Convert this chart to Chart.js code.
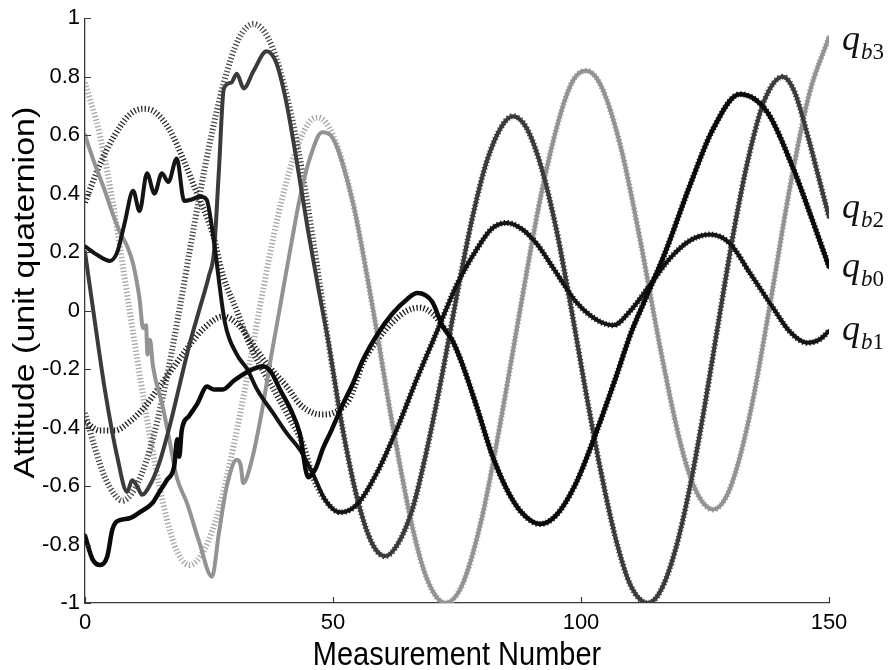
<!DOCTYPE html>
<html>
<head>
<meta charset="utf-8">
<script src="https://cdn.jsdelivr.net/npm/chart.js@4.4.1/dist/chart.umd.min.js"></script>
<style>
  html, body { margin: 0; padding: 0; background: #fff; }
  #wrap { width: 890px; height: 670px; }
</style>
</head>
<body>
<div id="wrap"><canvas id="attitude" width="890" height="670"></canvas></div>
<script>
// reference attitude (dotted) and filter estimate (solid), [measurement, value]
const qb0True = [[0,-0.38],[3,-0.41],[6,-0.41],[9,-0.38],[12,-0.33],[15,-0.26],[18,-0.19],[21,-0.12],[24,-0.06],[27.8,-0.02],[31,-0.05],[34,-0.12],[37,-0.19],[40.7,-0.26],[43.3,-0.32],[46,-0.35],[48,-0.355],[50,-0.35],[53.4,-0.3],[56,-0.18],[59,-0.1],[62,-0.04],[65,0.0],[67.5,0.01],[70,-0.01],[72,-0.05],[74,-0.1],[76,-0.18],[79,-0.33],[82,-0.49],[85,-0.61],[88,-0.69],[91.7,-0.73],[95,-0.7],[99,-0.59],[103,-0.42],[107,-0.23],[110,-0.08],[113,0.04],[117,0.2],[122,0.43],[126.6,0.62],[132,0.74],[137.5,0.68],[142.7,0.49],[146,0.34],[150,0.15]];
const qb0Est = [[0,-0.77],[1.5,-0.85],[3,-0.87],[4.5,-0.84],[5.5,-0.75],[6.5,-0.72],[9,-0.71],[11,-0.69],[13.5,-0.66],[15,-0.62],[16.5,-0.58],[18,-0.53],[18.6,-0.44],[19,-0.5],[19.5,-0.41],[21,-0.36],[22.6,-0.32],[24.6,-0.26],[26,-0.27],[27.8,-0.27],[30,-0.24],[32.7,-0.21],[35.9,-0.19],[37.5,-0.21],[39.3,-0.27],[41.5,-0.34],[43.3,-0.42],[45,-0.57],[46.5,-0.54],[48,-0.47],[49.4,-0.42],[52,-0.32],[54,-0.25],[56,-0.17],[59,-0.08],[62,-0.01],[65,0.04],[67,0.06],[70,0.03]];

const qb1True = [[0,0.37],[3,0.5],[6,0.6],[9,0.67],[11.7,0.69],[14,0.68],[17,0.62],[20,0.51],[22.6,0.4],[25.8,0.26],[27.8,0.12],[30.6,0.0],[33.3,-0.12],[36,-0.21],[38.7,-0.29],[41.3,-0.37],[44,-0.46],[46,-0.57],[48.5,-0.65],[51.5,-0.69],[55,-0.66],[59,-0.55],[63,-0.4],[67,-0.23],[71,-0.07],[75,0.09],[79,0.21],[82,0.28],[85,0.3],[88,0.28],[91,0.23],[95,0.13],[99,0.03],[103,-0.03],[106.5,-0.05],[110,0.0],[114,0.09],[118,0.18],[122,0.24],[126,0.26],[130,0.23],[134,0.13],[138.7,0.01],[142,-0.07],[145.6,-0.11],[148,-0.1],[150,-0.07]];
const qb1Est = [[0,0.22],[2.5,0.19],[5,0.17],[6.5,0.2],[8,0.3],[9.7,0.41],[11,0.34],[12.5,0.47],[14,0.4],[15.5,0.47],[16.8,0.44],[18.5,0.52],[20,0.375],[21.5,0.38],[23.2,0.39],[24.5,0.38],[25.8,0.26],[28.2,-0.04],[30.6,-0.15],[32.7,-0.2],[34.7,-0.27],[37.9,-0.35],[40.7,-0.42],[43.5,-0.48],[46,-0.56],[48.5,-0.65]];

const qb2True = [[0,-0.35],[2,-0.47],[4,-0.57],[6,-0.63],[7.5,-0.65],[10,-0.61],[13,-0.48],[16,-0.27],[19,0.0],[22,0.29],[25,0.56],[28,0.78],[31,0.93],[34,0.98],[37,0.93],[40,0.78],[43,0.55],[46,0.24],[49,-0.1],[52,-0.41],[55,-0.65],[58,-0.8],[60.5,-0.84],[63,-0.8],[66,-0.68],[69,-0.47],[72,-0.22],[75,0.055],[78,0.31],[81,0.51],[84,0.63],[86.3,0.665],[89,0.625],[92,0.49],[95,0.28],[98,0.01],[101,-0.28],[104,-0.55],[107,-0.78],[110,-0.94],[113.5,-1.0],[116,-0.96],[119,-0.82],[122,-0.6],[125,-0.32],[128,-0.01],[131,0.29],[134,0.54],[137,0.72],[140.7,0.8],[143,0.75],[146,0.58],[148,0.45],[150,0.32]];
const qb2Est = [[0,0.2],[2,-0.04],[4,-0.27],[6.5,-0.5],[8.5,-0.62],[9.5,-0.58],[10.5,-0.6],[11.5,-0.63],[13,-0.6],[15,-0.52],[17,-0.4],[19,-0.26],[21,-0.12],[23,0.0],[25,0.12],[26,0.2],[27,0.48],[28,0.76],[29.5,0.78],[30.6,0.81],[32,0.76],[34,0.82],[36.6,0.887],[38.5,0.85],[40.5,0.72],[42.5,0.53],[45,0.27],[47,0.08],[49,-0.1]];

const qb3True = [[0,0.78],[3,0.6],[6,0.33],[9,0.0],[12,-0.32],[15,-0.6],[18,-0.8],[21,-0.87],[24,-0.82],[27,-0.68],[30,-0.46],[33,-0.2],[36,0.08],[39,0.33],[42,0.52],[45,0.64],[47,0.66],[50,0.6],[54,0.37],[58,0.01],[62,-0.39],[66,-0.74],[69,-0.92],[72.6,-1.0],[76,-0.94],[80,-0.71],[84,-0.36],[88,0.03],[92,0.4],[96,0.68],[98.5,0.79],[101,0.82],[104,0.77],[108,0.56],[112,0.235],[116,-0.13],[120,-0.45],[123,-0.61],[126.6,-0.68],[130,-0.61],[134,-0.36],[138,0.01],[142,0.41],[146,0.74],[150,0.935]];
const qb3Est = [[0,0.6],[2,0.5],[4,0.41],[5.6,0.33],[7,0.27],[8.5,0.22],[9.7,0.16],[11,0.04],[11.7,-0.06],[12.3,-0.05],[12.6,-0.15],[13.1,-0.1],[13.7,-0.19],[15.7,-0.33],[17.1,-0.45],[18.5,-0.57],[20.6,-0.66],[23,-0.79],[25.6,-0.91],[27,-0.76],[28.6,-0.6],[30.6,-0.51],[31.4,-0.53],[31.9,-0.59],[33.5,-0.52],[35.5,-0.36],[37.5,-0.16],[39.5,0.03],[41.5,0.22],[43.5,0.4],[45.5,0.53],[47.8,0.61],[49.5,0.6]];

const xTicks = [0, 50, 100, 150];
const yTicks = [-1, -0.8, -0.6, -0.4, -0.2, 0, 0.2, 0.4, 0.6, 0.8, 1];
const xTitle = "Measurement Number";
const yTitle = "Attitude (unit quaternion)";

const sans = "'Liberation Sans', Arial, sans-serif";

// once the filter has converged the estimate follows the reference curve
function withTail(early, ref) {
  const lastX = early[early.length - 1][0];
  return early.concat(ref.filter(p => p[0] > lastX + 1.5));
}
const toXY = pts => pts.map(p => ({ x: p[0], y: p[1] }));

function trueSet(pts, color) {
  return {
    data: toXY(pts), borderColor: color, borderWidth: 6,
    borderDash: [1.3, 2.2], borderCapStyle: "butt", order: 2,
    pointRadius: 0, cubicInterpolationMode: "monotone", fill: false,
  };
}
function estSet(pts, color, width) {
  return {
    data: toXY(pts), borderColor: color, borderWidth: width,
    borderJoinStyle: "round", borderCapStyle: "round", order: 1,
    pointRadius: 0, cubicInterpolationMode: "monotone", fill: false,
  };
}

const insideTicks = {
  id: "insideTicks",
  afterDraw(chart) {
    const { ctx, chartArea, scales } = chart;
    ctx.save();
    ctx.strokeStyle = "#3a3a3a";
    ctx.lineWidth = 1.2;
    ctx.beginPath();
    yTicks.forEach(v => {
      const py = Math.round(scales.y.getPixelForValue(v)) + 0.5;
      ctx.moveTo(chartArea.left, py);
      ctx.lineTo(chartArea.left + 6, py);
    });
    xTicks.forEach(v => {
      const px = Math.round(scales.x.getPixelForValue(v)) + 0.5;
      ctx.moveTo(px, chartArea.bottom);
      ctx.lineTo(px, chartArea.bottom - 6);
    });
    ctx.stroke();
    ctx.restore();
  },
};

// axis titles, slightly tall type
const axisTitles = {
  id: "axisTitles",
  afterDraw(chart) {
    const { ctx, chartArea } = chart;
    const stretch = 1.17;
    ctx.save();
    ctx.fillStyle = "#000";
    ctx.font = "29px " + sans;
    ctx.textAlign = "center";
    ctx.textBaseline = "alphabetic";
    ctx.translate((chartArea.left + chartArea.right) / 2, 665);
    ctx.scale(1, stretch);
    ctx.fillText(xTitle, 0, 0);
    ctx.restore();

    ctx.save();
    ctx.fillStyle = "#000";
    ctx.font = "29px " + sans;
    ctx.textAlign = "center";
    ctx.textBaseline = "alphabetic";
    ctx.translate(34, (chartArea.top + chartArea.bottom) / 2 - 18);
    ctx.rotate(-Math.PI / 2);
    ctx.scale(stretch, 1);
    ctx.fillText(yTitle, 0, 0);
    ctx.restore();
  },
};

// q_b labels to the right of the line ends
const seriesLabels = [
  { letter: "b", digit: "3", base: 50 },
  { letter: "b", digit: "2", base: 218 },
  { letter: "b", digit: "0", base: 277 },
  { letter: "b", digit: "1", base: 340 },
];
const endLabels = {
  id: "endLabels",
  afterDraw(chart) {
    const { ctx } = chart;
    ctx.save();
    ctx.fillStyle = "#111";
    ctx.textBaseline = "alphabetic";
    seriesLabels.forEach(l => {
      let x = 842;
      ctx.font = "italic 36px 'Liberation Serif', serif";
      ctx.fillText("q", x, l.base);
      x += ctx.measureText("q").width + 1;
      ctx.font = "italic 23px 'Liberation Serif', serif";
      ctx.fillText(l.letter, x, l.base + 9);
      x += ctx.measureText(l.letter).width;
      ctx.font = "23px 'Liberation Serif', serif";
      ctx.fillText(l.digit, x, l.base + 9);
    });
    ctx.restore();
  },
};

new Chart(document.getElementById("attitude"), {
  type: "line",
  data: {
    datasets: [
      estSet(withTail(qb0Est, qb0True), "#0a0a0a", 4.5),
      estSet(withTail(qb1Est, qb1True), "#141414", 4),
      estSet(withTail(qb2Est, qb2True), "#3b3b3b", 4),
      estSet(withTail(qb3Est, qb3True), "#939393", 4),
      trueSet(qb0True, "#1c1c1c"),
      trueSet(qb1True, "#2a2a2a"),
      trueSet(qb2True, "#4a4a4a"),
      trueSet(qb3True, "#a6a6a6"),
    ],
  },
  options: {
    responsive: false,
    animation: false,
    events: [],
    layout: { padding: { top: 17, right: 61, left: 0, bottom: 0 } },
    plugins: { legend: { display: false }, tooltip: { enabled: false } },
    scales: {
      x: {
        type: "linear", min: 0, max: 150,
        afterBuildTicks: s => { s.ticks = xTicks.map(v => ({ value: v })); },
        afterFit: s => { s.height = 67; },
        grid: { display: false, drawTicks: false },
        border: { display: true, color: "#3a3a3a", width: 1.3 },
        ticks: { color: "#000", padding: 7, maxRotation: 0, font: { family: sans, size: 22 } },
      },
      y: {
        type: "linear", min: -1, max: 1,
        afterBuildTicks: s => { s.ticks = yTicks.map(v => ({ value: v })); },
        afterFit: s => { s.width = 85; },
        grid: { display: false, drawTicks: false },
        border: { display: true, color: "#3a3a3a", width: 1.3 },
        ticks: { color: "#000", padding: 5, font: { family: sans, size: 22 },
                 callback: v => String(Math.round(v * 10) / 10) },
      },
    },
  },
  plugins: [insideTicks, axisTitles, endLabels],
});
</script>
</body>
</html>
